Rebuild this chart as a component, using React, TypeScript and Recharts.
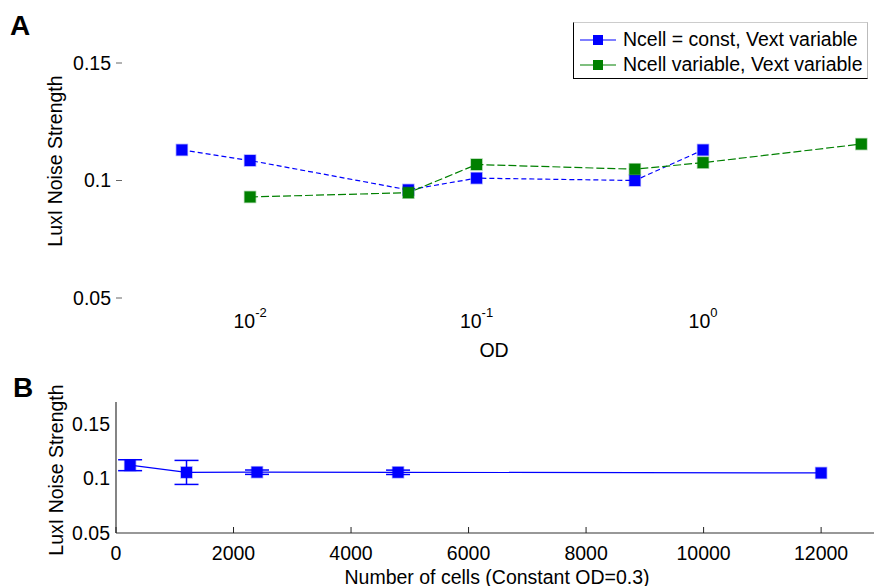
import { LineChart, Line, XAxis, YAxis, ErrorBar, Legend } from "recharts";

const FONT = "'Liberation Sans', Arial, Helvetica, sans-serif";
const BLUE = "#0000ff";
const GREEN = "#008000";

// panel A: noise vs OD (log axis)
const odConstCells = [0.005, 0.01, 0.05, 0.1, 0.5, 1];
const noiseConstCells = [0.113, 0.1085, 0.096, 0.101, 0.1, 0.113];
const odVarCells = [0.01, 0.05, 0.1, 0.5, 1, 5];
const noiseVarCells = [0.093, 0.0948, 0.1068, 0.1048, 0.1076, 0.1155];
const odTicks = [0.01, 0.1, 1];

// panel B: noise vs number of cells
const cellCounts = [240, 1200, 2400, 4800, 12000];
const noiseByCells = [0.1121, 0.1055, 0.1057, 0.1056, 0.105];
const noiseByCellsErr = [0.005, 0.011, 0.002, 0.002, 0];
const cellTicks = [0, 2000, 4000, 6000, 8000, 10000, 12000];

const noiseTicks = [0.05, 0.1, 0.15];

const constData = odConstCells.map((od, i) => ({ od, noise: noiseConstCells[i] }));
const varData = odVarCells.map((od, i) => ({ od, noise: noiseVarCells[i] }));
const cellData = cellCounts.map((cells, i) => ({ cells, noise: noiseByCells[i], err: noiseByCellsErr[i] }));

const squareDot = (color: string, size = 11) => (props: any) => {
  const { cx, cy, index } = props;
  if (cx == null || cy == null) return null;
  return (
    <rect key={`sq-${index}`} x={cx - size / 2} y={cy - size / 2} width={size} height={size}
      fill={color} stroke={color} strokeOpacity={0.35} strokeWidth={1.5} />
  );
};

function PowTick({ x, y, payload }: any) {
  const exp = Math.round(Math.log10(payload.value));
  return (
    <text x={x} y={y + 30} textAnchor="middle" fontSize={19.5} fill="#000" fontFamily={FONT}>
      10<tspan dy={-11} fontSize={13}>{exp}</tspan>
    </text>
  );
}

function CellTickBottom({ x, y, payload }: any) {
  return (
    <g>
      <line x1={x} x2={x} y1={y} y2={y - 6} stroke="#222" />
      <text x={x} y={y + 27} textAnchor="middle" fontSize={19.5} fill="#000" fontFamily={FONT}>
        {payload.value}
      </text>
    </g>
  );
}

function CellTickTop({ x, y }: any) {
  return <line x1={x} x2={x} y1={y} y2={y + 6} stroke="#222" />;
}

function LegendBox({ payload }: any) {
  return (
    <div style={{
      boxSizing: "border-box", width: 295, height: 57, paddingTop: 4, background: "#fff",
      borderLeft: "1.5px solid #000", borderBottom: "1.5px solid #000",
      borderTop: "1px solid #ccc", borderRight: "1px solid #bbb",
      fontFamily: FONT, fontSize: 19.5, color: "#000",
    }}>
      {(payload || []).map((p: any) => (
        <div key={p.value} style={{ display: "flex", alignItems: "center", height: 25 }}>
          <svg width={49} height={14} style={{ flex: "none" }}>
            <line x1={6} x2={42} y1={7} y2={7} stroke={p.color} strokeWidth={1.2} />
            <rect x={19} y={2} width={10} height={10} fill={p.color} />
          </svg>
          <span style={{ whiteSpace: "nowrap", lineHeight: "25px" }}>{p.value}</span>
        </div>
      ))}
    </div>
  );
}

const abs = (left: number, top: number, extra: any = {}) => ({
  position: "absolute" as const, left, top, fontFamily: FONT, color: "#000", whiteSpace: "nowrap" as const, ...extra,
});

export default function App() {
  return (
    <div style={{ position: "absolute", left: 0, top: 0, width: 874, height: 586, background: "#fff", overflow: "hidden", fontFamily: FONT }}>
      <div style={{ position: "absolute", left: 0, top: 0 }}>
        <LineChart width={874} height={360} margin={{ top: 16, right: 6, bottom: 61, left: 121 }}>
          <XAxis dataKey="od" type="number" scale="log" domain={[0.00272, 5.35]} allowDataOverflow
            ticks={odTicks} interval={0} height={1} axisLine={false} tickLine={false}
            tickSize={0} tickMargin={0} tick={<PowTick />} />
          <YAxis type="number" domain={[0.05, 0.17]} allowDataOverflow ticks={noiseTicks} interval={0}
            width={1} axisLine={false} tickSize={6} tickMargin={5}
            tickLine={{ stroke: "#666" }} tick={{ fill: "#000", fontSize: 19.5, fontFamily: FONT }} />
          <Legend layout="vertical" align="center" verticalAlign="middle" content={<LegendBox />}
            wrapperStyle={{ left: 573, top: 22, width: 295, height: 57 }} />
          <Line data={constData} dataKey="noise" name="Ncell = const, Vext variable" stroke={BLUE}
            strokeWidth={1.2} strokeDasharray="5 3" dot={squareDot(BLUE)} activeDot={false}
            isAnimationActive={false} />
          <Line data={varData} dataKey="noise" name="Ncell variable, Vext variable" stroke={GREEN}
            strokeWidth={1.2} strokeDasharray="8 3" dot={squareDot(GREEN)} activeDot={false}
            isAnimationActive={false} />
        </LineChart>
      </div>

      <div style={{ position: "absolute", left: 0, top: 360 }}>
        <LineChart width={874} height={226} margin={{ top: 41, right: 0, bottom: 52, left: 115 }}>
          <XAxis dataKey="cells" type="number" domain={[0, 12900]} allowDataOverflow ticks={cellTicks}
            interval={0} height={1} axisLine={{ stroke: "#333", strokeWidth: 1.2 }} tickLine={false}
            tickSize={0} tickMargin={0} tick={<CellTickBottom />} />
          <XAxis xAxisId="top" orientation="top" type="number" domain={[0, 12900]} allowDataOverflow
            ticks={cellTicks} interval={0} height={1} axisLine={false} tickLine={false}
            tickSize={0} tickMargin={0} tick={<CellTickTop />} />
          <YAxis type="number" domain={[0.05, 0.17]} allowDataOverflow ticks={noiseTicks} interval={0}
            width={1} axisLine={{ stroke: "#333", strokeWidth: 1.2 }} tickLine={false} tickSize={0}
            tickMargin={6} tick={{ fill: "#000", fontSize: 19.5, fontFamily: FONT }} />
          <Line data={cellData} dataKey="noise" stroke={BLUE} strokeWidth={1.2}
            dot={squareDot(BLUE)} activeDot={false} isAnimationActive={false}>
            <ErrorBar dataKey="err" width={12} stroke={BLUE} strokeWidth={1.5} direction="y" />
          </Line>
        </LineChart>
      </div>

      <div style={abs(10, 10, { fontSize: 28, fontWeight: "bold" })}>A</div>
      <div style={abs(13, 372, { fontSize: 28, fontWeight: "bold" })}>B</div>

      <div style={abs(55, 161, { fontSize: 19.5, transform: "translate(-50%, -50%) rotate(-90deg)" })}>
        LuxI Noise Strength
      </div>
      <div style={abs(56, 470, { fontSize: 19.5, transform: "translate(-50%, -50%) rotate(-90deg)" })}>
        LuxI Noise Strength
      </div>
      <div style={abs(494, 350, { fontSize: 19.5, transform: "translate(-50%, -50%)" })}>OD</div>
      <div style={abs(497, 577, { fontSize: 19.5, transform: "translate(-50%, -50%)" })}>
        Number of cells (Constant OD=0.3)
      </div>
    </div>
  );
}
